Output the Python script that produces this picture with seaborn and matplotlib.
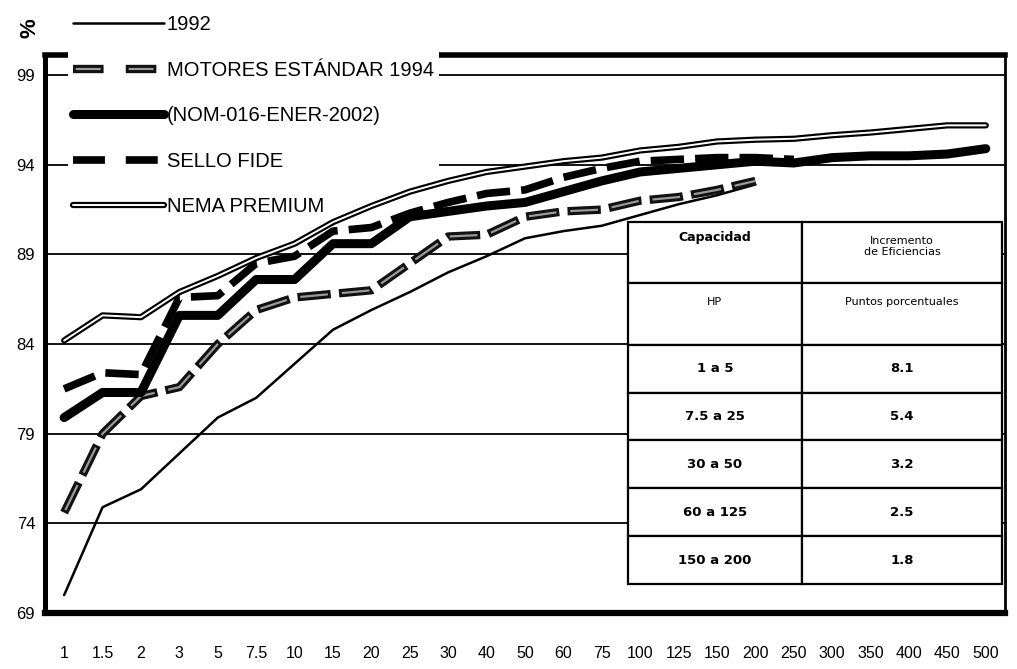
import numpy as np
import pandas as pd
import seaborn as sns
import matplotlib
matplotlib.use("Agg")
import matplotlib.pyplot as plt
from matplotlib.lines import Line2D
from matplotlib.legend_handler import HandlerTuple

# capacidad del motor (HP) y eficiencia nominal (%)
hp = ['1', '1.5', '2', '3', '5', '7.5', '10', '15', '20', '25', '30', '40', '50',
      '60', '75', '100', '125', '150', '200', '250', '300', '350', '400', '450', '500']

ef_1992 = [70.0, 74.9, 75.9, 77.9, 79.9, 81.0, 82.9, 84.8, 85.9, 86.9, 88.0, 88.9,
           89.9, 90.3, 90.6, 91.2, 91.8, 92.3, 92.9]
ef_1994 = [74.6, 79.0, 81.1, 81.6, 84.0, 85.9, 86.6, 86.8, 87.0, 88.5, 90.0, 90.1,
           91.1, 91.4, 91.5, 92.0, 92.2, 92.6, 93.1]
ef_2002 = [79.9, 81.3, 81.3, 85.6, 85.6, 87.6, 87.6, 89.6, 89.6, 91.1, 91.4, 91.7,
           91.9, 92.5, 93.1, 93.6, 93.8, 94.0, 94.2, 94.1, 94.4, 94.5, 94.5, 94.6, 94.9]
ef_fide = [81.5, 82.4, 82.3, 86.6, 86.7, 88.5, 88.9, 90.3, 90.5, 91.3, 91.9, 92.4,
           92.6, 93.3, 93.8, 94.2, 94.3, 94.4, 94.4, 94.3]
ef_nema = [84.2, 85.6, 85.5, 86.9, 87.8, 88.8, 89.6, 90.8, 91.7, 92.5, 93.1, 93.6,
           93.9, 94.2, 94.4, 94.8, 95.0, 95.3, 95.4, 95.45, 95.65, 95.8, 96.0, 96.2, 96.2]

labels = ['1992', 'MOTORES ESTÁNDAR 1994', '(NOM-016-ENER-2002)', 'SELLO FIDE', 'NEMA PREMIUM']
yticks = [69, 74, 79, 84, 89, 94, 99]

tabla_enc = [['Capacidad\n\n', 'Incremento\nde Eficiencias\n'],
             ['HP\n\n', 'Puntos porcentuales\n\n']]
tabla_cap = ['1 a 5', '7.5 a 25', '30 a 50', '60 a 125', '150 a 200']
tabla_inc = ['8.1', '5.4', '3.2', '2.5', '1.8']


def serie(vals):
    return pd.DataFrame({'x': np.arange(len(vals)), 'y': vals})


sns.set_theme(style="white")
plt.rcParams['font.family'] = ['Liberation Sans', 'DejaVu Sans']
plt.rcParams['lines.scale_dashes'] = False
plt.rcParams['text.color'] = 'black'
plt.rcParams['xtick.color'] = 'black'
plt.rcParams['ytick.color'] = 'black'

fig = plt.figure(figsize=(10.17, 6.69), dpi=100)
ax = fig.add_axes([0.0442, 0.0837, 0.944, 0.8348])

d1994 = (0, (24, 6))
d1994_in = (28, (20, 10))
dfide = (0, (24, 8))

sns.lineplot(data=serie(ef_1992), x='x', y='y', ax=ax, color='black', lw=1.8, zorder=3)
sns.lineplot(data=serie(ef_1994), x='x', y='y', ax=ax, color='#111111', lw=6,
             linestyle=d1994, zorder=3.1)
sns.lineplot(data=serie(ef_1994), x='x', y='y', ax=ax, color='#9a9a9a', lw=1.6,
             linestyle=d1994_in, zorder=3.15)
sns.lineplot(data=serie(ef_2002), x='x', y='y', ax=ax, color='black', lw=6.5,
             solid_capstyle='round', solid_joinstyle='round', zorder=3.2)
sns.lineplot(data=serie(ef_fide), x='x', y='y', ax=ax, color='black', lw=5.5,
             linestyle=dfide, zorder=3.3)
sns.lineplot(data=serie(ef_nema), x='x', y='y', ax=ax, color='black', lw=4.5,
             solid_capstyle='round', zorder=3.4)
sns.lineplot(data=serie(ef_nema), x='x', y='y', ax=ax, color='white', lw=1.4,
             solid_capstyle='round', zorder=3.45)

ax.set_xlim(-0.5, len(hp) - 0.5)
ax.set_ylim(69, 100.15)
ax.set_xlabel('')
ax.set_ylabel('')
ax.set_yticks(yticks)
ax.set_yticklabels([str(v) for v in yticks], fontsize=12)
ax.set_xticks(np.arange(len(hp)))
ax.set_xticklabels(hp, fontsize=11.5)
ax.set_xticks(np.arange(len(hp) + 1) - 0.5, minor=True)
ax.tick_params(axis='x', which='major', length=0, pad=24, colors='black')
ax.tick_params(axis='x', which='minor', length=5, width=1.3, direction='out', color='black')
ax.tick_params(axis='y', length=4, width=1.3, direction='out', pad=3, colors='black')

ax.yaxis.grid(True, color='black', lw=1.3)
ax.set_axisbelow(True)
for s, w in [('left', 3.6), ('bottom', 4.5), ('top', 4.0), ('right', 2.0)]:
    ax.spines[s].set_visible(True)
    ax.spines[s].set_color('black')
    ax.spines[s].set_linewidth(w)

fig.text(30 / 1017, 1 - 28 / 669, '%', rotation=90, fontsize=16, fontweight='bold',
         ha='center', va='center')

# leyenda (muestras con dos trazos, como en el original)
handles = [
    Line2D([], [], color='black', lw=1.8),
    (Line2D([], [], color='#111111', lw=6, linestyle=(0, (22, 16))),
     Line2D([], [], color='#9a9a9a', lw=1.6, linestyle=(36, (18, 20)))),
    Line2D([], [], color='black', lw=6.5, solid_capstyle='round'),
    Line2D([], [], color='black', lw=5.5, linestyle=(0, (23, 15))),
    (Line2D([], [], color='black', lw=4.5), Line2D([], [], color='white', lw=1.4)),
]
leg = ax.legend(handles, labels, loc='upper left', bbox_to_anchor=(68 / 1017, 1 - 10 / 669),
                bbox_transform=fig.transFigure, fontsize=14.5, frameon=True,
                handlelength=4.5, handletextpad=0.15, labelspacing=1.32,
                borderpad=0.25, borderaxespad=0, labelcolor='black',
                handler_map={tuple: HandlerTuple(ndivide=1, pad=0)})
leg.get_frame().set_facecolor('white')
leg.get_frame().set_edgecolor('none')
leg.get_frame().set_alpha(1)
leg.set_zorder(2.6)

# tabla de incrementos
celdas = tabla_enc + [[c, i] for c, i in zip(tabla_cap, tabla_inc)]
tab = ax.table(cellText=celdas, cellLoc='center', colWidths=[0.465, 0.535],
               bbox=[0.607, 0.052, 0.390, 0.648], zorder=5)
tab.auto_set_font_size(False)
alturas = [61, 62, 48, 48, 48, 48, 48]
for (r, c), cell in tab.get_celld().items():
    cell.set_height(alturas[r])
    cell.set_edgecolor('black')
    cell.set_linewidth(1.6)
    cell.set_facecolor('white')
    t = cell.get_text()
    t.set_family(['DejaVu Sans'])
    t.set_color('black')
    if r == 0 and c == 0:
        t.set_fontsize(9)
        t.set_fontweight('bold')
    elif r < 2:
        t.set_fontsize(8)
    else:
        t.set_fontsize(9.5)
        t.set_fontweight('bold')

fig.savefig('out.png', dpi=100)
